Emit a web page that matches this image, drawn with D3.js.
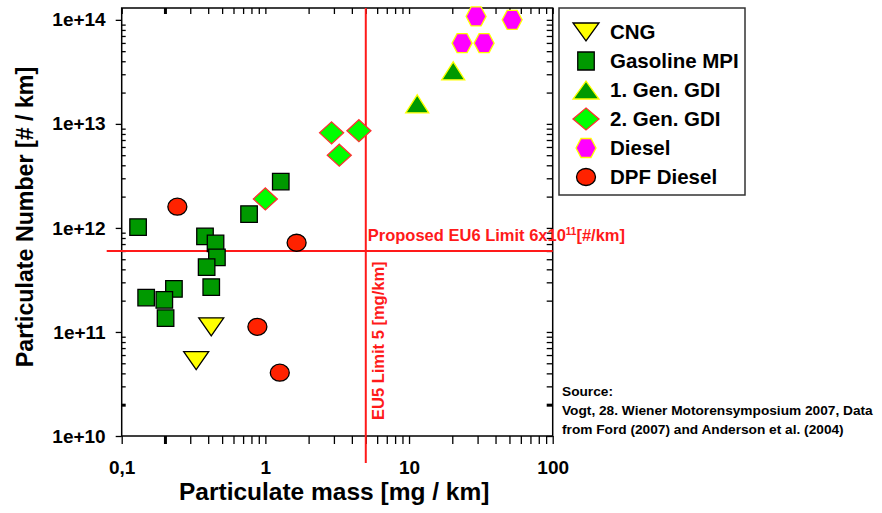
<!DOCTYPE html>
<html><head><meta charset="utf-8">
<script src="https://cdn.jsdelivr.net/npm/d3@7"></script>
<style>
body{margin:0;background:#fff;}
svg{display:block;font-family:"Liberation Sans",Arial,sans-serif;font-weight:bold;}
</style></head>
<body>
<svg id="c" width="882" height="513"></svg>
<script>
// ---------- data ----------
const categories = ["CNG","Gasoline MPI","1. Gen. GDI","2. Gen. GDI","Diesel","DPF Diesel"];
const cngX = [0.42, 0.33];
const cngY = [1.12e11, 5.3e10];
const mpiX = [0.13, 0.38, 0.45, 0.46, 0.39, 0.42, 0.148, 0.231, 0.198, 0.202, 0.77, 1.28];
const mpiY = [1.02e12, 8.3e11, 7.1e11, 5.2e11, 4.2e11, 2.7e11, 2.14e11, 2.59e11, 2.03e11, 1.36e11, 1.36e12, 2.79e12];
const gdi1X = [11.4, 20.3];
const gdi1Y = [1.56e13, 3.24e13];
const gdi2X = [1.0, 2.89, 4.48, 3.27];
const gdi2Y = [1.9e12, 8.2e12, 8.6e12, 5.0e12];
const dieselX = [29.3, 52.2, 23.4, 33.3];
const dieselY = [1.08e14, 1.0e14, 5.97e13, 5.97e13];
const dpfX = [0.244, 1.65, 0.88, 1.26];
const dpfY = [1.6e12, 7.2e11, 1.12e11, 4.06e10];
const xTicks = [0.1, 1, 10, 100];
const xTickLabels = ["0,1", "1", "10", "100"];
const yTicks = [1e10, 1e11, 1e12, 1e13, 1e14];
const yTickLabels = ["1e+10", "1e+11", "1e+12", "1e+13", "1e+14"];
const eu5Limit = 5;        // mg/km
const eu6Limit = 6e11;     // #/km

// ---------- styles ----------
const styles = {
  "CNG":          {shape:"tridown", fill:"#ffff00", stroke:"#000000", w:25, h:18},
  "Gasoline MPI": {shape:"square",   fill:"#009900", stroke:"#000000", w:16.5, h:16.5},
  "1. Gen. GDI":  {shape:"triup",    fill:"#009900", stroke:"#ffff00", w:23, h:18},
  "2. Gen. GDI":  {shape:"diamond",  fill:"#00ff00", stroke:"#ff3030", w:24, h:22},
  "Diesel":       {shape:"hexagon",  fill:"#ff00ff", stroke:"#ffff00", w:20, h:19},
  "DPF Diesel":   {shape:"ellipse",  fill:"#ff2200", stroke:"#000000", w:19, h:17}
};
const seriesX = [cngX, mpiX, gdi1X, gdi2X, dieselX, dpfX];
const seriesY = [cngY, mpiY, gdi1Y, gdi2Y, dieselY, dpfY];
const drawOrder = [1, 0, 5, 3, 2, 4];

function shapePath(shape, w, h){
  const a = w/2, b = h/2;
  switch(shape){
    case "square": return `M${-a},${-b}H${a}V${b}H${-a}Z`;
    case "tridown": return `M${-a},${-b}L${a},${-b}L0,${b}Z`;
    case "triup": return `M${-a},${b}L${a},${b}L0,${-b}Z`;
    case "diamond": return `M0,${-b}L${a},0L0,${b}L${-a},0Z`;
    case "hexagon": return `M${-a},0L${-a/2},${-b}L${a/2},${-b}L${a},0L${a/2},${b}L${-a/2},${b}Z`;
    case "ellipse": return `M${-a},0A${a},${b} 0 1,0 ${a},0A${a},${b} 0 1,0 ${-a},0Z`;
  }
}

// ---------- scales ----------
const svg = d3.select("#c");
const x = d3.scaleLog().domain([0.1, 100]).range([121.7, 552.7]);
const y = d3.scaleLog().domain([1e10, 1.3e14]).range([436, 8]);
const [x0, x1] = x.range();
const [yb, yt] = y.range();

// minor tick values (2..9 per decade)
const xMinor = [], yMinor = [];
[0.1, 1, 10].forEach(d => { for (let k = 2; k <= 9; k++) xMinor.push(d*k); });
[1e10, 1e11, 1e12, 1e13, 1e14].forEach(d => { for (let k = 2; k <= 9; k++) if (d*k <= 1.3e14) yMinor.push(d*k); });

const tickFont = "19px";

// bottom axis
const gB = svg.append("g").attr("transform", `translate(0,${yb})`);
gB.call(d3.axisBottom(x).tickValues(xMinor).tickSize(8).tickFormat(""));
gB.append("g").call(d3.axisBottom(x).tickValues(xTicks).tickSize(8).tickPadding(17)
  .tickFormat((d,i) => xTickLabels[i]));
// top axis (inward)
const gT = svg.append("g").attr("transform", `translate(0,${yt})`);
gT.call(d3.axisBottom(x).tickValues(xMinor).tickSize(6).tickFormat(""));
gT.append("g").call(d3.axisBottom(x).tickValues(xTicks).tickSize(6).tickFormat(""));
// left axis
const gL = svg.append("g").attr("transform", `translate(${x0},0)`);
gL.call(d3.axisRight(y).tickValues(yMinor).tickSize(4).tickFormat(""));
gL.append("g").call(d3.axisLeft(y).tickValues(yTicks).tickSize(6).tickPadding(10)
  .tickFormat((d,i) => yTickLabels[i]));
// right axis (inward)
const gR = svg.append("g").attr("transform", `translate(${x1},0)`);
gR.call(d3.axisLeft(y).tickValues(yMinor).tickSize(6).tickFormat(""));
gR.append("g").call(d3.axisLeft(y).tickValues(yTicks).tickSize(6).tickFormat(""));

svg.selectAll(".domain").remove();
svg.selectAll(".tick line").attr("stroke", "#000").attr("stroke-width", 1.3);
[gB, gT, gL, gR].forEach(g => g.select("g").selectAll(".tick line").attr("stroke-width", 3));
svg.selectAll(".tick text").attr("fill", "#000").style("font-size", tickFont)
  .style("font-family", '"Liberation Sans",Arial,sans-serif').style("font-weight", "bold");

// frame
svg.append("rect").attr("x", x0).attr("y", yt).attr("width", x1 - x0).attr("height", yb - yt)
  .attr("fill", "none").attr("stroke", "#000").attr("stroke-width", 1.5);

// limit lines
svg.append("line").attr("x1", x(eu5Limit)).attr("x2", x(eu5Limit)).attr("y1", yt).attr("y2", yb + 27)
  .attr("stroke", "#ff1a1a").attr("stroke-width", 2);
svg.append("line").attr("x1", x0 - 15).attr("x2", x1).attr("y1", y(eu6Limit)).attr("y2", y(eu6Limit))
  .attr("stroke", "#ff1a1a").attr("stroke-width", 2);

const t6 = svg.append("text").attr("x", x(eu5Limit) + 2).attr("y", y(eu6Limit) - 10)
  .attr("fill", "#ff1a1a").style("font-size", "16.5px");
t6.append("tspan").text("Proposed EU6 Limit 6x10");
t6.append("tspan").attr("dy", -6).style("font-size", "10px").text("11");
t6.append("tspan").attr("dy", 6).text("[#/km]");

svg.append("text").attr("transform", `translate(${x(eu5Limit) + 18},420) rotate(-90)`)
  .attr("fill", "#ff1a1a").style("font-size", "16.5px").text("EU5 Limit 5 [mg/km]");

// points
drawOrder.forEach(si => {
  const name = categories[si], st = styles[name];
  svg.append("g").selectAll("path").data(seriesX[si].map((v,i) => [v, seriesY[si][i]]))
    .join("path")
    .attr("transform", d => `translate(${x(d[0])},${y(d[1])})`)
    .attr("d", shapePath(st.shape, st.w, st.h))
    .attr("fill", st.fill).attr("stroke", st.stroke).attr("stroke-width", 1.3);
});

// axis titles
svg.append("text").attr("x", (x0 + x1)/2 - 3).attr("y", 500).attr("text-anchor", "middle")
  .style("font-size", "24.5px").attr("fill", "#000").text("Particulate mass [mg / km]");
svg.append("text").attr("transform", `translate(33,${(yt + yb)/2 - 5}) rotate(-90)`).attr("text-anchor", "middle")
  .style("font-size", "23.2px").attr("fill", "#000").text("Particulate Number [# / km]");

// legend
const lg = svg.append("g");
lg.append("rect").attr("x", 559).attr("y", 8).attr("width", 186).attr("height", 187)
  .attr("fill", "#fff").attr("stroke", "#333").attr("stroke-width", 1.5);
categories.forEach((name, i) => {
  const st = styles[name];
  const cy = 32 + i * 29;
  const lw = (st.shape === "tridown" || st.shape === "triup" || st.shape === "diamond") ? 26 : st.w;
  const lh = st.shape === "square" ? 18 : st.h;
  lg.append("path").attr("transform", `translate(586,${cy})`)
    .attr("d", shapePath(st.shape, lw, lh))
    .attr("fill", st.fill).attr("stroke", st.stroke).attr("stroke-width", 1.3);
  lg.append("text").attr("x", 610).attr("y", cy + 7).style("font-size", "20.5px")
    .attr("fill", "#000").text(name);
});

// source
const src = svg.append("text").attr("x", 562).attr("y", 396).style("font-size", "13.7px").attr("fill", "#000");
["Source:", "Vogt, 28. Wiener Motorensymposium 2007, Data", "from Ford (2007) and Anderson et al. (2004)"]
  .forEach((s, i) => src.append("tspan").attr("x", 562).attr("dy", i === 0 ? 0 : 19).text(s));
</script>
</body></html>
